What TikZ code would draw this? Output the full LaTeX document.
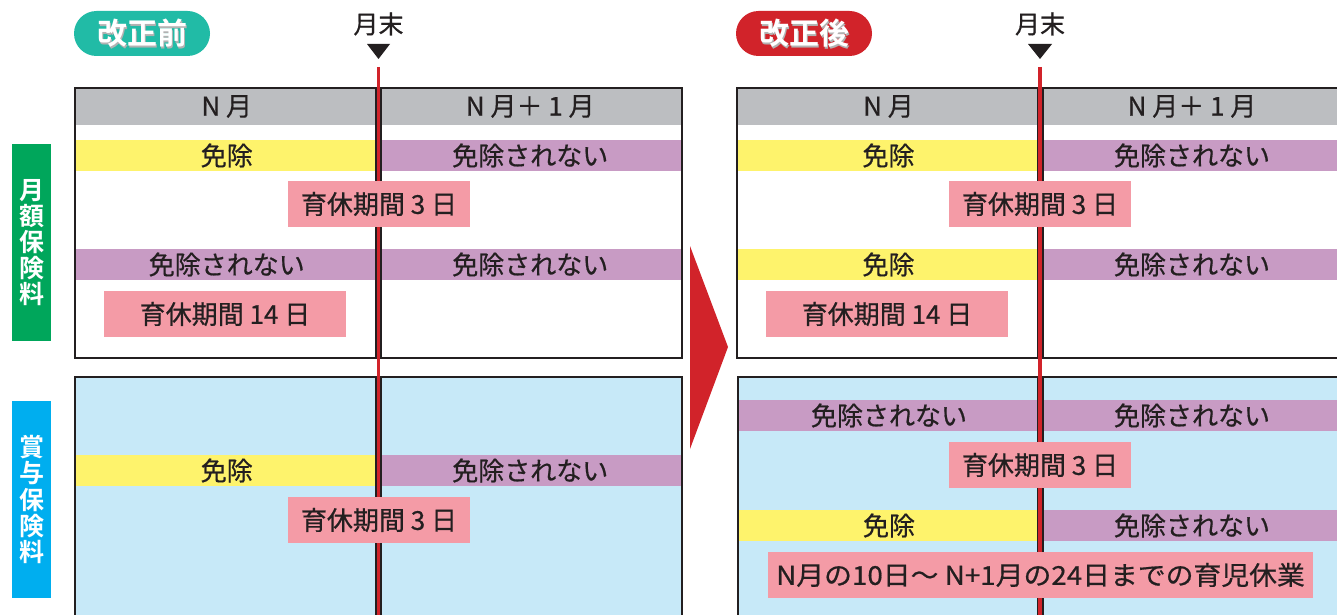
\documentclass[tikz,border=0pt]{standalone}
\usepackage{fontspec}
\setmainfont{Noto Sans CJK JP}[FakeBold=0.6]
\newfontfamily\jpm{Noto Sans CJK JP}[FakeBold=0.6]
\newfontfamily\jpb{Noto Sans CJK JP Bold}
\definecolor{ink}{HTML}{231F20}
\definecolor{hdr}{HTML}{BCBEC1}
\definecolor{yel}{HTML}{FEF36C}
\definecolor{pur}{HTML}{C89BC4}
\definecolor{pnk}{HTML}{F49BA6}
\definecolor{lblue}{HTML}{C7E9F8}
\definecolor{grn}{HTML}{00A65B}
\definecolor{sky}{HTML}{00AEEF}
\definecolor{teal}{HTML}{21BBA6}
\definecolor{rd}{HTML}{D1232A}
\begin{document}
\begin{tikzpicture}[x=1pt,y=-1pt,
  txt/.style={text=ink, font=\jpm\fontsize{26}{28}\selectfont, inner sep=0pt},
  cell/.style={txt, minimum height=31pt, anchor=center},
  hcell/.style={txt, minimum height=37pt, anchor=center},
  pinkbox/.style={txt, fill=pnk, minimum height=46pt, anchor=center},
  badge/.style={rounded corners=22.5pt, inner sep=0pt, minimum width=136pt, minimum height=45pt, text=white, font=\jpb\fontsize{30}{32}\selectfont},
  sidelab/.style={minimum width=39pt, inner sep=0pt, text=white, align=center, font=\jpb\fontsize{25}{26.2}\selectfont},
  boxline/.style={draw=ink, line width=2.5pt},
  divider/.style={draw=ink, line width=7pt},
  redline/.style={draw=rd, line width=3.8pt},
  marker/.style={fill=ink}
]
\useasboundingbox (0,0) rectangle (1337,615);
\clip (0,0) rectangle (1337,615);

% ---------- side labels ----------
\node[sidelab, fill=grn, minimum height=197pt] (lab1) at (31.5,242.5) {月\\額\\保\\険\\料};
\node[sidelab, fill=sky, minimum height=197pt] (lab2) at (31.5,499.5) {賞\\与\\保\\険\\料};

% ---------- badges ----------
\node[badge, fill=teal] (b1) at (142,33.5) {};
\node[badge, fill=none, text=black!30] (b1s) at (143.2,35) {改正前};
\node[badge, fill=none] (b1t) at (142,33.5) {改正前};
\node[badge, fill=rd] (b2) at (804,33.5) {};
\node[badge, fill=none, text=black!30] (b2s) at (805.2,35) {改正後};
\node[badge, fill=none] (b2t) at (804,33.5) {改正後};

% ---------- month end markers ----------
\node[txt, font=\jpm\fontsize{25}{27}\selectfont] (me1) at (378.5,24) {月末};
\node[txt, font=\jpm\fontsize{25}{27}\selectfont] (me2) at (1040,24) {月末};
\fill[marker] (367,44) -- (390,44) -- (378.5,59) -- cycle;
\fill[marker] (1028,44) -- (1052,44) -- (1040,59) -- cycle;

% ---------- big arrow ----------
\fill[rd] (690,246) -- (728,347) -- (690,449) -- cycle;

% =============== LEFT (before) ===============
\fill[white] (75,88) rectangle (682,358);
\fill[hdr] (75,88) rectangle (682,125);
\node[hcell, minimum width=303pt] (Lh1) at (226.75,106.5) {N 月};
\node[hcell, minimum width=303pt] (Lh2) at (530.25,106.5) {N 月＋ 1 月};
\node[cell, fill=yel, minimum width=303.5pt] (La1) at (226.75,155.5) {免除};
\node[cell, fill=pur, minimum width=303.5pt] (Lb1) at (530.25,155.5) {免除されない};
\node[cell, fill=pur, minimum width=303.5pt] (La2) at (226.75,264.5) {免除されない};
\node[cell, fill=pur, minimum width=303.5pt] (Lb2) at (530.25,264.5) {免除されない};
\draw[boxline] (75,88) rectangle (682,358);
\fill[lblue] (75,377) rectangle (682,640);
\node[cell, fill=yel, minimum width=303.5pt] (La3) at (226.75,470.5) {免除};
\node[cell, fill=pur, minimum width=303.5pt] (Lb3) at (530.25,470.5) {免除されない};
\draw[boxline] (75,377) rectangle (682,640);
\draw[divider] (378.5,88) -- (378.5,358);
\draw[divider] (378.5,377) -- (378.5,640);
\draw[redline] (378.5,67) -- (378.5,640);
\node[pinkbox, minimum width=182pt] (Lp1) at (379,204) {育休期間 3 日};
\node[pinkbox, minimum width=242pt] (Lp2) at (225,314) {育休期間 14 日};
\node[pinkbox, minimum width=182pt] (Lp3) at (379,520) {育休期間 3 日};

% =============== RIGHT (after) ===============
\fill[white] (737,88) rectangle (1344,358);
\fill[hdr] (737,88) rectangle (1344,125);
\node[hcell, minimum width=303pt] (Rh1) at (888.5,106.5) {N 月};
\node[hcell, minimum width=304pt] (Rh2) at (1192,106.5) {N 月＋ 1 月};
\node[cell, fill=yel, minimum width=303pt] (Ra1) at (888.5,155.5) {免除};
\node[cell, fill=pur, minimum width=304pt] (Rb1) at (1192,155.5) {免除されない};
\node[cell, fill=yel, minimum width=303pt] (Ra2) at (888.5,264.5) {免除};
\node[cell, fill=pur, minimum width=304pt] (Rb2) at (1192,264.5) {免除されない};
\draw[boxline] (737,88) rectangle (1344,358);
\fill[lblue] (738,377) rectangle (1344,640);
\node[cell, fill=pur, minimum width=302pt] (Ra3) at (889,415.5) {免除されない};
\node[cell, fill=pur, minimum width=304pt] (Rb3) at (1192,415.5) {免除されない};
\node[cell, fill=yel, minimum width=302pt] (Ra4) at (889,525.5) {免除};
\node[cell, fill=pur, minimum width=304pt] (Rb4) at (1192,525.5) {免除されない};
\draw[boxline] (738,377) rectangle (1344,640);
\draw[divider] (1040,88) -- (1040,358);
\draw[divider] (1040,377) -- (1040,640);
\draw[redline] (1040,67) -- (1040,640);
\node[pinkbox, minimum width=182pt] (Rp1) at (1040,204) {育休期間 3 日};
\node[pinkbox, minimum width=242pt] (Rp2) at (887,314) {育休期間 14 日};
\node[pinkbox, minimum width=182pt] (Rp3) at (1040,465) {育休期間 3 日};
\node[pinkbox, minimum width=545pt] (Rp4) at (1040.5,575) {\scalebox{1.07}[1]{N月の10日〜 N+1月の24日までの育児休業}};
\end{tikzpicture}
\end{document}
